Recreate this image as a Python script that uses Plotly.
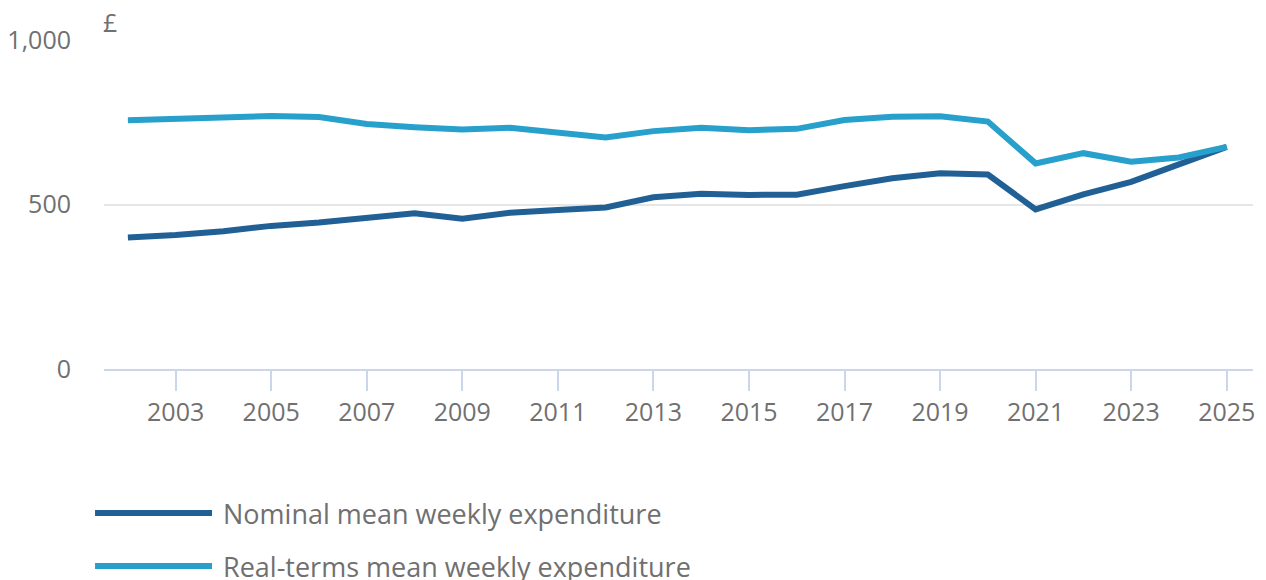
import plotly.graph_objects as go

# Financial years ending
years = list(range(2002, 2026))

# Mean weekly household expenditure, £
nominal = [400, 407, 419, 435, 445, 461, 473, 457, 475, 483, 491, 522,
           533, 529, 530, 556, 580, 595, 591, 485, 531, 569, 623, 675]
real_terms = [756, 760, 765, 769, 766, 745, 735, 728, 733, 718, 704, 723,
              733, 726, 730, 757, 767, 768, 752, 625, 656, 630, 643, 675]

series_names = ["Nominal mean weekly expenditure", "Real-terms mean weekly expenditure"]
series_colors = ["#206095", "#27a0cc"]

y_ticks = [0, 500, 1000]
x_ticks = list(range(2003, 2026, 2))

FONT = "Open Sans"
TEXT_COLOR = "#707071"

fig = go.Figure()
for name, vals, col in zip(series_names, [nominal, real_terms], series_colors):
    fig.add_trace(go.Scatter(
        x=years, y=vals, name=name, mode="lines",
        line=dict(color=col, width=6),
        showlegend=False,
    ))

# Legend drawn as long line swatches with labels underneath the plot
legend_y = [-0.4377, -0.5988]
for name, col, ly in zip(series_names, series_colors, legend_y):
    fig.add_shape(type="line", xref="paper", yref="paper",
                  x0=-0.0078, x1=0.094, y0=ly, y1=ly,
                  line=dict(color=col, width=6))
    fig.add_annotation(xref="paper", yref="paper", x=0.1018, y=ly,
                       text=name, showarrow=False, xanchor="left", yanchor="middle",
                       font=dict(family=FONT, size=27, color=TEXT_COLOR))

# Unit label above the value axis
fig.add_annotation(xref="paper", yref="paper", x=-0.003, y=1.055, text="£",
                   showarrow=False, xanchor="left", yanchor="middle",
                   font=dict(family=FONT, size=25, color=TEXT_COLOR))

fig.update_layout(
    width=1266, height=580,
    margin=dict(l=104, r=13, t=40, b=211, autoexpand=False),
    paper_bgcolor="white", plot_bgcolor="white",
    font=dict(family=FONT, size=25, color=TEXT_COLOR),
)
fig.update_xaxes(
    range=[2001.5, 2025.55], automargin=False,
    tickvals=x_ticks, ticktext=[str(t) for t in x_ticks],
    ticks="outside", ticklen=20, tickwidth=2, tickcolor="#ccd6eb",
    showline=True, linecolor="#ccd6eb", linewidth=2,
    showgrid=False, zeroline=False,
    tickfont=dict(family=FONT, size=25, color=TEXT_COLOR),
)
fig.update_yaxes(
    range=[0, 1000], automargin=False,
    tickvals=y_ticks, ticktext=[f"{v:,}" for v in y_ticks],
    showgrid=True, gridcolor="#e6e6e6", gridwidth=2,
    zeroline=False, showline=False,
    ticks="", ticklabelstandoff=32,
    tickfont=dict(family=FONT, size=25, color=TEXT_COLOR),
)

fig.write_html("out.html")
